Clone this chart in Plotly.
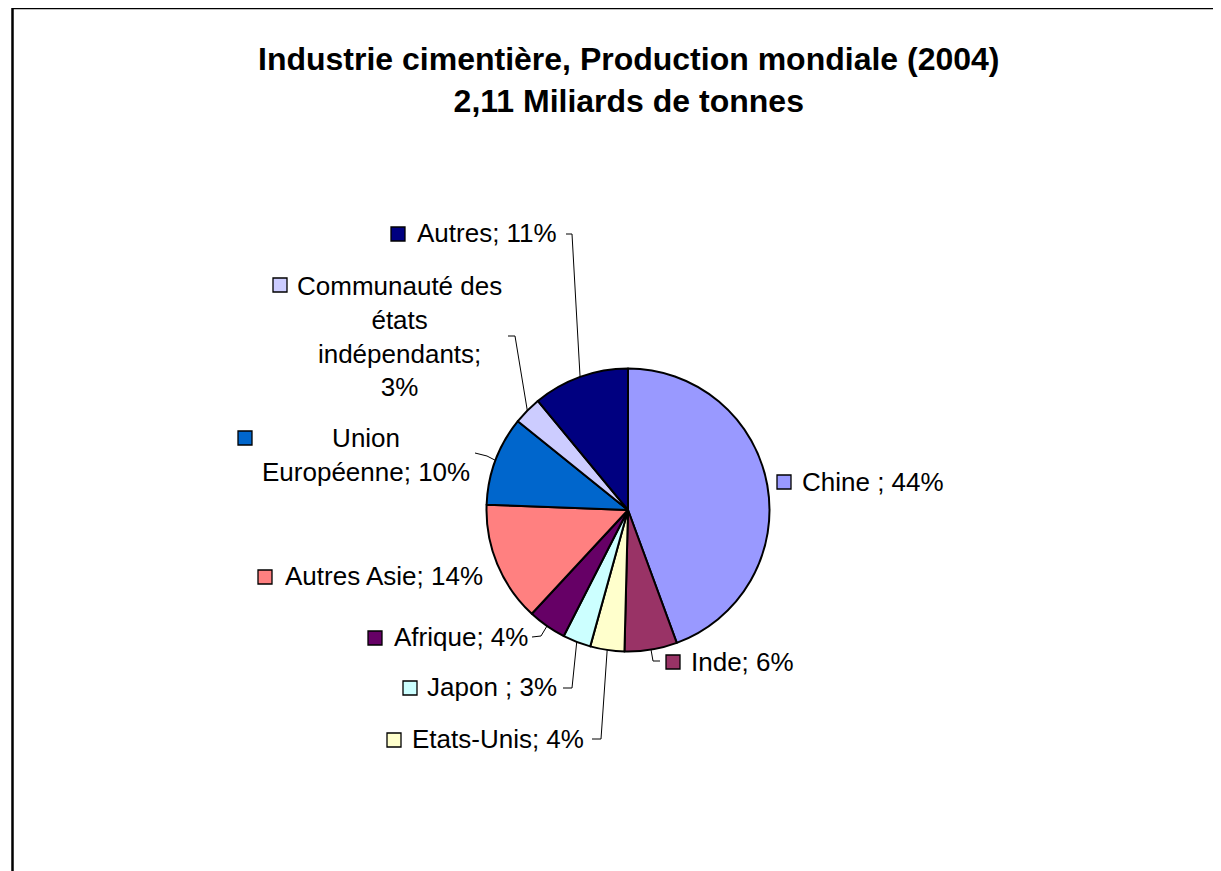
import math
import plotly.graph_objects as go

# ---------------- data ----------------
categories = ["Chine ", "Inde", "Etats-Unis", "Japon ", "Afrique", "Autres Asie",
              "Union Européenne", "Communauté des états indépendants", "Autres"]
label_text = ["Chine ", "Inde", "Etats-Unis", "Japon ", "Afrique", "Autres Asie",
              "Union<br>Européenne", "Communauté des<br>états<br>indépendants;<br>", "Autres"]
shares = [44.4, 6.0, 3.9, 3.2, 4.4, 13.7, 10.2, 3.2, 11.0]
colors = ["#9999FF", "#993366", "#FFFFCC", "#CCFFFF", "#660066", "#FF8080",
          "#0066CC", "#CCCCFF", "#000080"]
title_lines = ["Industrie cimentière, Production mondiale (2004)", "2,11 Miliards de tonnes"]

W, H = 1221, 871
OFF = 8  # page body margin
CX, CY, R = 628, 510, 141.5
FONT = "Liberation Sans, Arial, sans-serif"
LFS = 26


def px(x):
    return (x - OFF) / W


def py(y):
    return 1 - (y - OFF) / H


fig = go.Figure()
fig.add_trace(go.Pie(
    labels=categories, values=shares, sort=False, direction="clockwise", rotation=0,
    marker=dict(colors=colors, line=dict(color="black", width=2)),
    textinfo="none", showlegend=False, hoverinfo="label+percent",
    domain=dict(x=[px(CX - R), px(CX + R)], y=[py(CY + R), py(CY - R)]),
))

# label layout (positions in pixels): text x, anchor, text y, key left x, key y, leader points
layout_spec = [
    dict(tx=800, anc="left", ty=482, kx=777, ky=482, lead=None),
    dict(tx=689, anc="left", ty=662, kx=666, ky=662, lead=[(660, 661), (653, 661)]),
    dict(tx=410, anc="left", ty=739, kx=387, ky=740, lead=[(592, 739), (601, 739)]),
    dict(tx=425, anc="left", ty=687, kx=403, ky=688, lead=[(563, 688), (572, 688)]),
    dict(tx=392, anc="left", ty=637, kx=368, ky=638, lead=[(532, 637), (541, 636)]),
    dict(tx=283, anc="left", ty=576, kx=258, ky=577, lead=None),
    dict(tx=365.5, anc="center", ty=455, kx=238, ky=438, lead=[(475, 453), (487, 456)]),
    dict(tx=399, anc="center", ty=336, kx=273, ky=285, lead=[(508, 336), (515, 336)]),
    dict(tx=415, anc="left", ty=233, kx=391, ky=234, lead=[(566, 234), (572, 234)]),
]

total = sum(shares)
cum = 0.0
annotations = []
shapes = []
for name, val, col, spec in zip(label_text, shares, colors, layout_spec):
    mid = (cum + val / 2) / total * 2 * math.pi
    cum += val
    pct = round(val / total * 100)
    if name.endswith("<br>"):
        txt = f"{name}{pct}%"
    else:
        txt = f"{name}; {pct}%"
    annotations.append(dict(
        x=px(spec["tx"]), y=py(spec["ty"]), xref="paper", yref="paper",
        xanchor=spec["anc"], yanchor="middle", align="center", showarrow=False,
        text=txt, font=dict(family=FONT, size=LFS, color="black"),
    ))
    k = 14
    shapes.append(dict(
        type="rect", xref="paper", yref="paper",
        x0=px(spec["kx"]), x1=px(spec["kx"] + k),
        y0=py(spec["ky"] + k / 2), y1=py(spec["ky"] - k / 2),
        fillcolor=col, line=dict(color="black", width=1.3),
    ))
    if spec["lead"]:
        ex = CX + R * math.sin(mid)
        ey = CY - R * math.cos(mid)
        pts = spec["lead"] + [(ex, ey)]
        path = "M " + " L ".join(f"{px(x)},{py(y)}" for x, y in pts)
        shapes.append(dict(type="path", xref="paper", yref="paper", path=path,
                           line=dict(color="black", width=1)))

# title
annotations.append(dict(
    x=px(629), y=py(80), xref="paper", yref="paper", xanchor="center", yanchor="middle",
    showarrow=False, align="center",
    text="<b>" + "<br>".join(title_lines) + "</b>",
    font=dict(family=FONT, size=32, color="black"),
))

# chart frame
shapes.append(dict(type="rect", xref="paper", yref="paper",
                   x0=px(12.5), x1=px(W + 20), y0=py(H + 20), y1=py(8),
                   line=dict(color="black", width=2.5), fillcolor="rgba(0,0,0,0)"))

fig.update_layout(
    width=W, height=H, margin=dict(l=0, r=0, t=0, b=0),
    paper_bgcolor="white", plot_bgcolor="white",
    annotations=annotations, shapes=shapes,
)
fig.write_html("out.html")
